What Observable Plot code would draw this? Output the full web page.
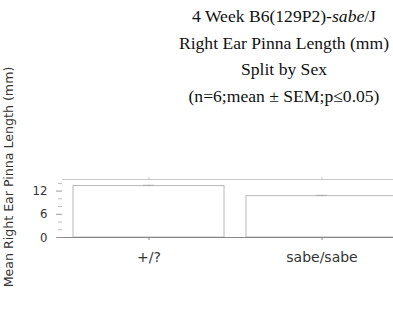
<!DOCTYPE html>
<html><head><meta charset="utf-8">
<script src="https://cdn.jsdelivr.net/npm/d3@7"></script>
<script src="https://cdn.jsdelivr.net/npm/@observablehq/plot@0.6"></script>
<style>
html,body{margin:0;padding:0;background:#fff;overflow:hidden;width:393px;height:316px;}
#wrap{position:relative;width:393px;height:316px;overflow:hidden;}
#title{position:absolute;left:174px;width:220px;top:3px;text-align:center;font-family:"Liberation Serif","Times New Roman",serif;font-size:17.6px;line-height:26.5px;color:#111;white-space:nowrap;}
#chart{position:absolute;left:0;top:0;}
#chart svg{max-width:none !important;}
#ylab{position:absolute;left:9px;top:177px;width:260px;margin-left:-130px;margin-top:-8px;height:16px;line-height:16px;text-align:center;transform:rotate(-90deg);font-family:"DejaVu Sans",sans-serif;font-size:12.6px;color:#333;white-space:nowrap;}
</style></head><body>
<div id="wrap">
<div id="chart"></div>
<div id="title">4 Week B6(129P2)-<i>sabe</i>/J<br>Right Ear Pinna Length (mm)<br>Split by Sex<br>(n=6;mean ± SEM;p≤0.05)</div>
<div id="ylab"></div>
</div>
<script>
const genotypes = ["+/?", "sabe/sabe"];
const means = [13.3, 10.7];
const sems = [0.2, 0.2];
const yTicks = [0, 6, 12];
const yMinorTicks = [2, 4, 8, 10, 14];
const yLabel = "Mean Right Ear Pinna Length (mm)";

document.getElementById("ylab").textContent = yLabel;

const data = genotypes.map((g, i) => ({g, m: means[i], lo: means[i] - sems[i], hi: means[i] + sems[i]}));

const plot = Plot.plot({
  width: 410,
  height: 316,
  marginLeft: 62,
  marginRight: 2,
  marginTop: 179,
  marginBottom: 79,
  style: {fontFamily: "'DejaVu Sans', sans-serif", background: "white", maxWidth: "none"},
  x: {domain: genotypes, paddingInner: 0.13, paddingOuter: 0.065, label: null},
  y: {domain: [0, 15], label: null},
  marks: [
    Plot.ruleY([15], {stroke: "#c8c8c8"}),
    Plot.barY(data, {x: "g", y: "m", fill: "white", stroke: "#b8b8b8", strokeWidth: 1}),
    Plot.ruleX(data, {x: "g", y1: "lo", y2: "hi", stroke: "#bbb"}),
    Plot.tickY(data, {x: "g", y: "hi", stroke: "#aaa", inset: 70}),
    Plot.ruleX(genotypes, {x: d => d, y1: 15, y2: 15.6, stroke: "#ccc"}),
    Plot.ruleY([0], {stroke: "#888"}),
    Plot.axisX({tickSize: 3, tickPadding: 12, fontSize: 14, color: "#333", stroke: "#888"}),
    Plot.axisY({ticks: yTicks, tickSize: 6, tickPadding: 9, fontSize: 13, fontFamily: "'DejaVu Sans Condensed', sans-serif", color: "#333", stroke: "#999"}),
    Plot.axisY({ticks: yMinorTicks, tickSize: 4, tickFormat: () => "", stroke: "#bbb"})
  ]
});
document.getElementById("chart").appendChild(plot);
</script>
</body></html>
